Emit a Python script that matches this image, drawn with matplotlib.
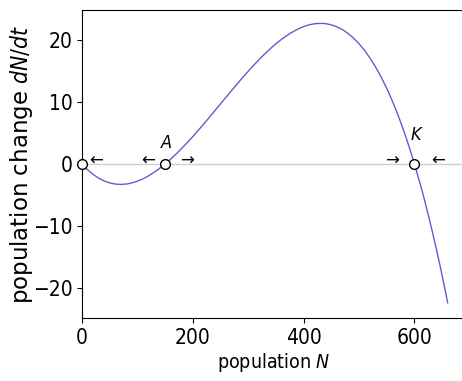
import matplotlib.pyplot as plt

# population N and growth rate dN/dt
N = [0, 5, 10, 20, 30, 40, 50, 60, 70, 80, 90, 100, 110, 120, 135, 150, 160,
     175, 190, 200, 210, 225, 240, 250, 260, 275, 290, 300, 310, 325, 340,
     350, 360, 375, 390, 400, 410, 420, 430, 440, 450, 460, 470, 480, 490,
     500, 510, 520, 530, 540, 550, 555, 560, 570, 580, 585, 590, 600, 610,
     615, 620, 630, 640, 645, 650, 660]
dNdt = [0, -0.48, -0.92, -1.68, -2.28, -2.74, -3.06, -3.24, -3.30, -3.24,
        -3.06, -2.78, -2.40, -1.92, -1.05, 0, 0.78, 2.07, 3.46, 4.44, 5.46,
        7.03, 8.64, 9.72, 10.8, 12.41, 13.99, 15.0, 15.98, 17.38, 18.66,
        19.44, 20.16, 21.09, 21.84, 22.22, 22.51, 22.68, 22.74, 22.69, 22.5,
        22.18, 21.73, 21.12, 20.36, 19.44, 18.36, 17.1, 15.66, 14.04, 12.22,
        11.24, 10.2, 7.98, 5.54, 4.24, 2.88, 0, -3.12, -4.77, -6.48, -10.08,
        -13.94, -15.96, -18.06, -22.44]

eq_N = [0, 150, 600]
eq_labels = ["", "A", "K"]
arrow_N = [25, 120, 190, 560, 643]
arrow_txt = ["←", "←", "→", "→", "←"]

plt.rcParams["font.size"] = 14
plt.rcParams["font.stretch"] = "condensed"

fig = plt.figure(figsize=(4.62, 3.81), dpi=100)
ax = fig.add_axes([82 / 462, 63 / 381, 384 / 462, 308 / 381])
ax.spines["right"].set_visible(False)

ax.axhline(0, color="#cfcfcf", lw=1, zorder=1)
ax.plot(N, dNdt, color="#5f5fcc", lw=1, zorder=2)
ax.plot(eq_N, [0] * len(eq_N), "o", mfc="white", mec="black", ms=7,
        mew=1, zorder=3, clip_on=False)

label_y = {"A": 1.9, "K": 3.3}
for n, lab in zip(eq_N, eq_labels):
    if lab:
        ax.text(n + 2, label_y[lab], lab, style="italic", ha="center",
                va="bottom", fontsize=13)
for n, t in zip(arrow_N, arrow_txt):
    ax.text(n, 0.6, t, ha="center", va="center", fontsize=12,
            fontstretch="normal")

ax.set_xlim(0, 693)
ax.set_ylim(-24.9, 24.9)
ax.set_xticks([0, 200, 400, 600])
ax.set_yticks([-20, -10, 0, 10, 20])
ax.tick_params(labelsize=15)
ax.set_xlabel("population $N$", fontsize=14, labelpad=2)
ax.set_ylabel("population change $dN/dt$", fontsize=16.5, labelpad=-2,
              fontstretch="normal")

fig.savefig("out.png", dpi=100)
